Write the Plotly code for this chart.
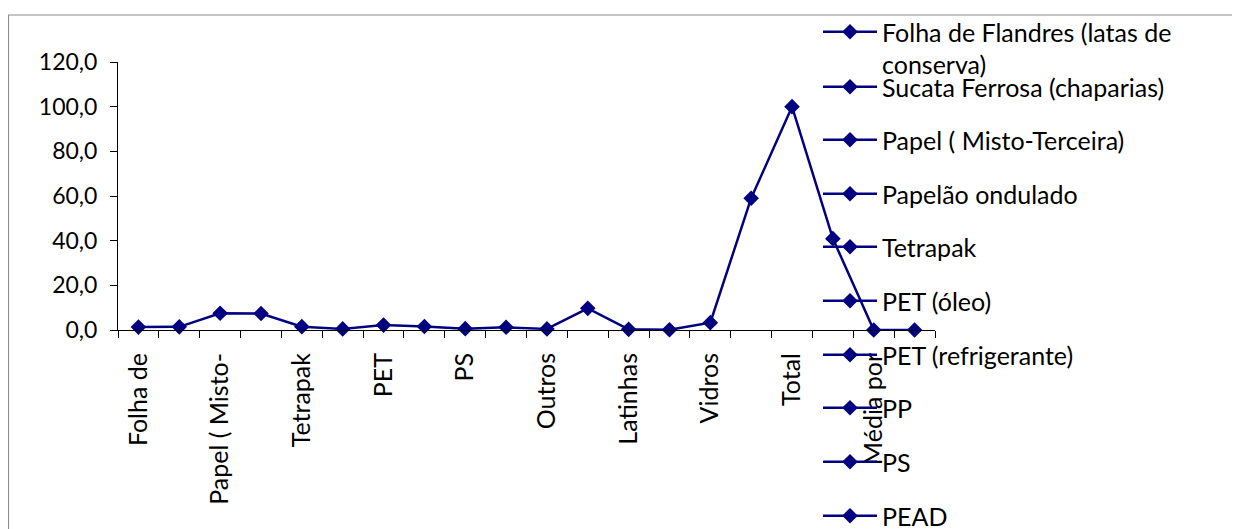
import plotly.graph_objects as go

# ---- data ----
category_index = list(range(20))
values = [1.3, 1.4, 7.5, 7.4, 1.5, 0.5, 2.2, 1.6, 0.6, 1.2,
          0.5, 9.7, 0.3, 0.1, 3.3, 59.0, 100.0, 40.9, 0.0, 0.0]
tick_positions = [0, 2, 4, 6, 8, 10, 12, 14, 16, 18]
tick_labels = ["Folha de", "Papel ( Misto-", "Tetrapak", "PET", "PS",
               "Outros", "Latinhas", "Vidros", "Total", "Média por"]
legend_names = ["Folha de Flandres (latas de<br>conserva)",
                "Sucata Ferrosa (chaparias)",
                "Papel ( Misto-Terceira)",
                "Papelão ondulado",
                "Tetrapak",
                "PET (óleo)",
                "PET (refrigerante)",
                "PP",
                "PS",
                "PEAD"]

NAVY = "#000080"
FONT = "Lato"
FS = 25
OFF = 8  # page body margin
W, H = 1240 - OFF, 529 - OFF
# plot-area edges in screen pixels, converted to figure pixels
L_PX, R_PX, T_PX, B_PX = 118 - OFF, 935 - OFF, 62 - OFF, 330 - OFF

fig = go.Figure()
fig.add_trace(go.Scatter(
    x=category_index, y=values, mode="lines+markers",
    line=dict(color=NAVY, width=2.5),
    marker=dict(symbol="diamond", size=12, color=NAVY),
    showlegend=False, cliponaxis=False))

legend_y_px = [34, 88, 141, 195, 248, 302, 356, 409, 463, 517]
layout_legends = {}
for i, name in enumerate(legend_names):
    key = "legend" if i == 0 else f"legend{i+1}"
    fig.add_trace(go.Scatter(
        x=[None], y=[None], mode="lines+markers", name=name,
        line=dict(color=NAVY, width=2.5),
        marker=dict(symbol="diamond", size=12, color=NAVY),
        legend=key))
    if i == 0:
        ypos = 1 - (legend_y_px[i] - 33) / H
    else:
        ypos = 1 - (legend_y_px[i] - 9) / H
    layout_legends[key] = dict(
        x=810 / W, y=ypos, xref="container", yref="container",
        xanchor="left", yanchor="middle" if i > 0 else "top",
        valign="top" if i == 0 else "middle",
        bgcolor="rgba(0,0,0,0)", borderwidth=0, itemwidth=54,
        font=dict(family=FONT, size=FS, color="black"))

pw = R_PX - L_PX
ph = B_PX - T_PX
fig.add_shape(type="rect", xref="paper", yref="paper",
              x0=(8 - OFF - L_PX + 0.5) / pw, x1=(1300 - L_PX) / pw,
              y0=(B_PX - 600) / ph, y1=(B_PX - (15 - OFF)) / ph,
              line=dict(color="#8c8c8c", width=1.2), fillcolor="rgba(0,0,0,0)",
              layer="below")

fig.update_layout(
    width=W, height=H,
    margin=dict(l=L_PX, r=W - R_PX, t=T_PX, b=H - B_PX, autoexpand=False),
    paper_bgcolor="white", plot_bgcolor="white",
    separators=",.",
    font=dict(family=FONT, size=FS, color="black"),
    xaxis=dict(range=[-0.5, 19.5], tickmode="array", tickvals=tick_positions,
               ticktext=tick_labels, tickangle=-90, ticks="",
               showline=True, linecolor="black", linewidth=1,
               showgrid=False, zeroline=False, ticklabelstandoff=12,
               automargin=False,
               minor=dict(tickmode="linear", tick0=-0.5, dtick=1, ticks="outside",
                          ticklen=7, tickcolor="black", tickwidth=1, showgrid=False),
               tickfont=dict(family=FONT, size=FS, color="black")),
    yaxis=dict(range=[0, 120], dtick=20, tickformat=".1f", ticks="outside",
               ticklen=7, tickcolor="black", showline=True, linecolor="black",
               linewidth=1, showgrid=False, zeroline=False, automargin=False,
               ticklabelstandoff=8,
               tickfont=dict(family=FONT, size=23, color="black")),
    **layout_legends,
)

fig.write_html("out.html")
